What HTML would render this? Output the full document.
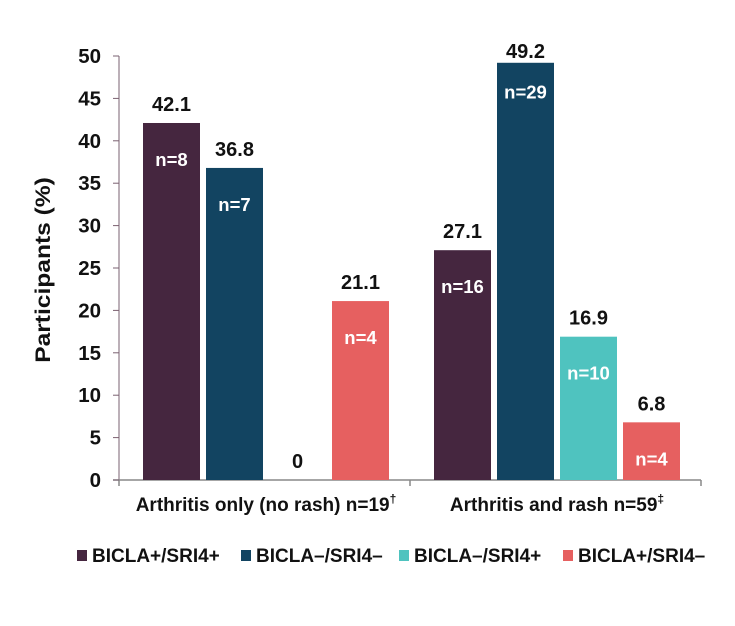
<!DOCTYPE html>
<html><head><meta charset="utf-8"><style>
body{margin:0;background:#fff}
svg text{font-family:"Liberation Sans",Arial,sans-serif;font-weight:bold}
</style></head><body>
<svg id="c" width="735" height="621"></svg>
<script>
const categories=["Arthritis only (no rash) n=19","Arthritis and rash n=59"];
const catSup=["†","‡"];
const series=["BICLA+/SRI4+","BICLA–/SRI4–","BICLA–/SRI4+","BICLA+/SRI4–"];
const colors=["#45263f","#124461","#4fc3bf","#e66060"];
const values=[[42.1,36.8,0,21.1],[27.1,49.2,16.9,6.8]];
const counts=[[8,7,0,4],[16,29,10,4]];
const yTicks=[0,5,10,15,20,25,30,35,40,45,50];
const NS="http://www.w3.org/2000/svg";
const svg=document.getElementById('c');
const x0=119,x1=701,yZero=480,yTop=56;
const y=v=>yZero-(v/50)*(yZero-yTop);
const groupCenter=i=>266+i*291;
const bw=57,gap=6;
function el(t,a,txt){const e=document.createElementNS(NS,t);for(const k in a)e.setAttribute(k,a[k]);if(txt!==undefined)e.textContent=txt;svg.appendChild(e);return e;}
function txt(x,yy,s,size,sx,anchor,fill){return el('text',{x:0,y:0,transform:`translate(${x},${yy}) scale(${sx},1)`,'text-anchor':anchor,'font-size':size,fill:fill},s);}
let e=el('line',{x1:x0,y1:yTop,x2:x0,y2:yZero,stroke:'#7a6070','stroke-width':1});

e=el('line',{x1:x0-6,y1:yZero,x2:x1,y2:yZero,stroke:'#888','stroke-width':1.5});

[x0,410,x1].forEach(xx=>{el('line',{x1:xx,y1:yZero,x2:xx,y2:yZero+6,stroke:'#888','stroke-width':1.5});});
yTicks.forEach(t=>{
  el('line',{x1:x0-6,y1:y(t),x2:x0,y2:y(t),stroke:'#7a6070'});
  const l=txt(x0-18,y(t)+7,t,20.5,1,'end','#111');
  
});
e=el('text',{x:0,y:0,transform:'translate(50,270) rotate(-90) scale(1.17,1)','text-anchor':'middle','font-size':21,fill:'#111'},'Participants (%)');

values.forEach((vals,g)=>{
  const start=groupCenter(g)-(4*bw+3*gap)/2;
  vals.forEach((v,s)=>{
    const bx=start+s*(bw+gap);
    const shift=Math.max(0,58-(y(v)-12));
    if(v>0){
      const r=el('rect',{x:bx,y:y(v),width:bw,height:yZero-y(v),fill:colors[s]});
      
      const n=txt(bx+bw/2,y(v)+43-shift,'n='+counts[g][s],18.5,1.0,'middle','#fff');
      
    }
    const t=txt(bx+bw/2,y(v)-12+shift,String(v),20,1,'middle','#111');
    
  });
  const c=el('text',{x:0,y:0,transform:`translate(${groupCenter(g)},511)`,'text-anchor':'middle','font-size':19,fill:'#111'});
  
  c.appendChild(document.createTextNode(categories[g]));
  const sp=document.createElementNS(NS,'tspan');sp.setAttribute('dy','-8');sp.setAttribute('font-size','12');sp.textContent=catSup[g];c.appendChild(sp);
});
const legX=[77,241,399,563];
series.forEach((s,i)=>{
  const r=el('rect',{x:legX[i],y:550,width:10,height:11,fill:colors[i]});
  
  const t=txt(legX[i]+15,562,s,19,1,'start','#111');
  
});
</script>
</body></html>
